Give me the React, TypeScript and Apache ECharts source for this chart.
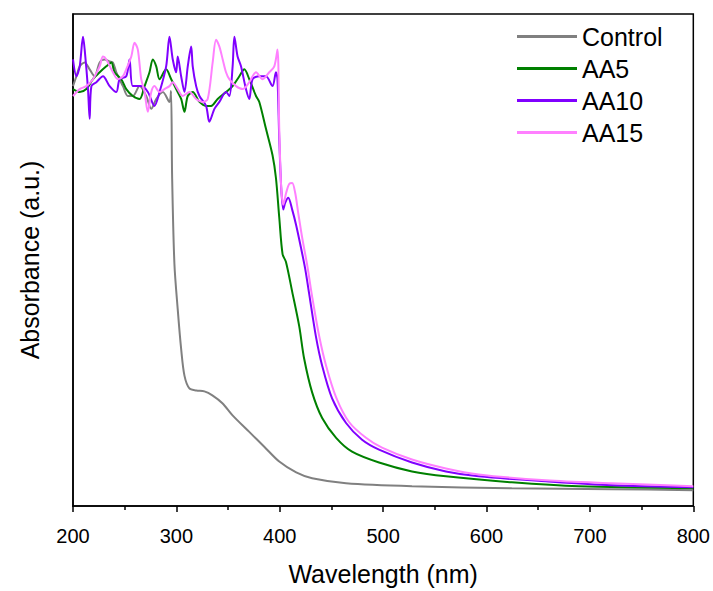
import React, { useEffect, useRef } from "react";
import * as echarts from "echarts";

// Wavelength (nm) and absorbance (a.u.)
const controlWl = [200, 203.3, 206.5, 211.3, 216.1, 220.9, 225.8, 230.6, 235.4, 238.6, 241.9, 248.3, 253.1, 257.9, 264.4, 270.8, 275.7, 280.5, 286.9, 293.3, 294.8, 295.9, 298.1, 301.3, 304.6, 307.8, 312.6, 319.4, 327.1, 334.8, 344.5, 354.1, 370.5, 385.0, 399.5, 415.9, 431.3, 464.1, 527.9, 624.4, 720.9, 800];
const controlAbs = [4.25, 4.35, 4.45, 4.49, 4.42, 4.35, 4.49, 4.52, 4.5, 4.49, 4.39, 4.25, 4.15, 4.15, 4.25, 4.15, 4.02, 4.12, 4.19, 4.09, 4.2, 3.32, 2.45, 1.99, 1.59, 1.32, 1.19, 1.17, 1.16, 1.12, 1.04, 0.92, 0.75, 0.6, 0.45, 0.34, 0.28, 0.23, 0.2, 0.18, 0.17, 0.16];

const aa5Wl = [200, 206.5, 212.9, 219.3, 225.8, 232.2, 237.1, 240.2, 246.7, 251.5, 257.9, 264.4, 269.2, 274.0, 277.2, 280.5, 283.7, 290.1, 295.0, 299.8, 304.6, 307.8, 311.0, 315.8, 322.3, 328.7, 333.6, 339.9, 348.0, 354.4, 360.9, 365.7, 370.5, 377.0, 380.2, 386.6, 393.0, 396.3, 399.5, 402.7, 406.0, 412.0, 418.8, 423.6, 431.3, 441.0, 454.5, 469.9, 496.0, 527.9, 560.7, 624.4, 689.0, 800];
const aa5Abs = [4.22, 4.19, 4.22, 4.32, 4.39, 4.45, 4.49, 4.39, 4.32, 4.22, 4.15, 4.12, 4.25, 4.39, 4.52, 4.45, 4.32, 4.42, 4.32, 4.22, 4.12, 3.99, 4.15, 4.19, 4.09, 4.05, 4.05, 4.12, 4.19, 4.25, 4.35, 4.42, 4.32, 4.15, 4.09, 3.82, 3.55, 3.32, 2.92, 2.55, 2.47, 2.17, 1.82, 1.49, 1.15, 0.89, 0.69, 0.55, 0.44, 0.35, 0.3, 0.24, 0.2, 0.18];

const aa10Wl = [200, 203.3, 206.5, 209.7, 211.3, 214.5, 216.1, 217.8, 222.6, 229.0, 235.4, 241.9, 245.1, 251.5, 254.7, 257.9, 266.0, 272.4, 278.8, 283.7, 290.1, 293.3, 296.5, 299.8, 301.3, 304.6, 307.8, 311.0, 314.3, 315.8, 319.1, 322.3, 328.7, 331.9, 336.8, 341.6, 348.0, 351.2, 354.4, 356.1, 359.2, 362.5, 367.3, 370.5, 373.7, 380.2, 386.6, 393.0, 396.3, 397.8, 399.5, 401.4, 403.4, 405.3, 408.2, 412.0, 415.9, 420.4, 424.6, 428.4, 434.9, 441.0, 450.6, 464.1, 479.6, 496.0, 527.9, 560.7, 592.5, 657.2, 720.9, 800];
const aa10Abs = [4.52, 4.35, 4.45, 4.75, 4.62, 4.22, 3.92, 4.25, 4.29, 4.35, 4.25, 4.19, 4.32, 4.35, 4.52, 4.25, 4.25, 4.19, 4.05, 4.19, 4.45, 4.75, 4.52, 4.39, 4.55, 4.35, 4.19, 4.45, 4.65, 4.45, 4.25, 4.15, 4.05, 3.89, 4.02, 4.09, 4.19, 4.15, 4.45, 4.75, 4.55, 4.45, 4.22, 4.12, 4.32, 4.35, 4.35, 4.25, 4.39, 4.32, 3.72, 3.22, 3.0, 3.07, 3.12, 3.0, 2.84, 2.62, 2.4, 2.15, 1.72, 1.42, 1.09, 0.84, 0.67, 0.57, 0.44, 0.35, 0.3, 0.25, 0.21, 0.19];

const aa15Wl = [200, 206.5, 212.9, 219.3, 225.8, 229.0, 232.2, 238.6, 243.4, 248.3, 251.5, 256.4, 259.5, 262.7, 266.0, 269.2, 272.4, 275.7, 278.8, 283.7, 288.5, 293.3, 296.5, 301.3, 306.2, 312.6, 319.1, 325.5, 330.3, 335.1, 338.4, 341.6, 344.8, 348.0, 351.2, 357.7, 364.1, 370.5, 377.0, 383.4, 389.8, 394.7, 397.8, 399.5, 401.4, 403.4, 406.2, 409.1, 412.0, 414.9, 417.8, 421.6, 426.5, 431.3, 438.1, 444.8, 454.5, 467.0, 483.4, 498.9, 527.9, 560.7, 592.5, 657.2, 720.9, 800];
const aa15Abs = [4.15, 4.22, 4.25, 4.32, 4.45, 4.55, 4.52, 4.39, 4.32, 4.35, 4.42, 4.55, 4.69, 4.62, 4.32, 4.19, 3.99, 4.19, 4.25, 4.19, 4.22, 4.25, 4.29, 4.22, 4.15, 4.19, 4.12, 4.09, 4.12, 4.49, 4.72, 4.65, 4.52, 4.39, 4.32, 4.25, 4.22, 4.29, 4.39, 4.32, 4.39, 4.45, 4.62, 3.82, 3.22, 3.05, 3.17, 3.26, 3.27, 3.17, 2.97, 2.72, 2.44, 2.12, 1.72, 1.42, 1.1, 0.85, 0.69, 0.59, 0.47, 0.38, 0.32, 0.26, 0.23, 0.2];

const seriesNames = ["Control", "AA5", "AA10", "AA15"];
const seriesColors = ["#808080", "#008000", "#8000ff", "#ff80ff"];
const seriesWl = [controlWl, aa5Wl, aa10Wl, aa15Wl];
const seriesAbs = [controlAbs, aa5Abs, aa10Abs, aa15Abs];

const FONT = "Liberation Sans, Arial, sans-serif";

export default function App() {
  const ref = useRef<HTMLDivElement>(null);
  useEffect(() => {
    if (!ref.current) return;
    const chart = echarts.init(ref.current, null, { renderer: "svg" });
    chart.setOption({
      animation: false,
      backgroundColor: "#fff",
      textStyle: { fontFamily: FONT },
      grid: {
        left: 73,
        right: 18,
        top: 14,
        bottom: 79,
        show: true,
        borderColor: "#000",
        borderWidth: 1.5,
        backgroundColor: "transparent",
      },
      legend: {
        left: 512,
        top: 19,
        orient: "vertical",
        icon: "rect",
        itemWidth: 60,
        itemHeight: 3,
        itemGap: 7,
        textStyle: { fontSize: 25, color: "#000", fontFamily: FONT, lineHeight: 25 },
        data: seriesNames,
      },
      xAxis: {
        type: "value",
        min: 200,
        max: 800,
        interval: 100,
        name: "Wavelength (nm)",
        nameLocation: "middle",
        nameGap: 55,
        nameTextStyle: { fontSize: 25, color: "#000", fontFamily: FONT },
        axisLine: { show: true, lineStyle: { color: "#000", width: 1.5 } },
        axisTick: { show: true, inside: false, length: 6, lineStyle: { color: "#000", width: 1.5 } },
        minorTick: { show: true, splitNumber: 2, length: 4, lineStyle: { color: "#000", width: 1.5 } },
        axisLabel: { fontSize: 20, color: "#000", margin: 20, fontFamily: FONT },
        splitLine: { show: false },
      },
      yAxis: {
        type: "value",
        min: 0,
        max: 4.98,
        name: "Absorbance (a.u.)",
        nameLocation: "middle",
        nameGap: 31,
        nameTextStyle: { fontSize: 25, color: "#000", fontFamily: FONT },
        axisLine: { show: true, lineStyle: { color: "#000", width: 1.5 } },
        axisTick: { show: false },
        axisLabel: { show: false },
        splitLine: { show: false },
      },
      series: seriesNames.map((name, i) => ({
        name,
        type: "line",
        symbol: "none",
        showSymbol: false,
        smooth: 0.3,
        color: seriesColors[i],
        lineStyle: { width: 2, color: seriesColors[i] },
        data: seriesWl[i].map((w, j) => [w, seriesAbs[i][j]]),
      })),
    });
    return () => chart.dispose();
  }, []);
  return <div ref={ref} style={{ width: 713, height: 591, position: "absolute", left: 0, top: 0 }} />;
}
